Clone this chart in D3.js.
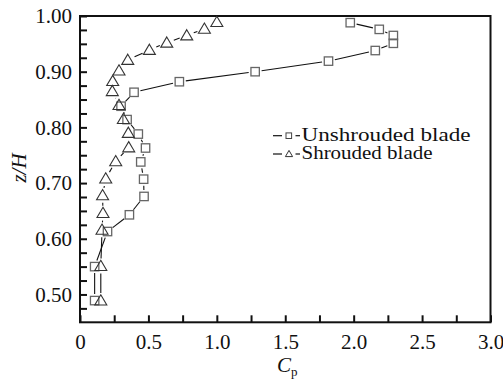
<!DOCTYPE html>
<html><head><meta charset="utf-8">
<script src="https://cdn.jsdelivr.net/npm/d3@7"></script>
<style>
body{margin:0;background:#fff;}
</style></head>
<body><svg id="c" width="503" height="384"></svg>
<script>
// Data
const seriesNames = ["Unshrouded blade", "Shrouded blade"];
const unshroudedCp = [1.975,2.187,2.29,2.29,2.158,1.816,1.28,0.726,0.395,0.30,0.344,0.426,0.479,0.444,0.465,0.468,0.361,0.201,0.107,0.107];
const unshroudedZ  = [0.988,0.976,0.965,0.951,0.938,0.919,0.900,0.882,0.863,0.838,0.814,0.788,0.763,0.738,0.707,0.676,0.643,0.613,0.550,0.489];
const shroudedCp = [1.0,0.909,0.78,0.634,0.507,0.349,0.285,0.239,0.236,0.285,0.317,0.353,0.356,0.261,0.188,0.165,0.168,0.161,0.152,0.152];
const shroudedZ  = [0.989,0.977,0.965,0.952,0.939,0.921,0.902,0.883,0.865,0.840,0.815,0.790,0.764,0.739,0.708,0.678,0.646,0.616,0.551,0.489];
const xTicks = [0,0.5,1.0,1.5,2.0,2.5,3.0];
const xTickLabels = ["0","0.5","1.0","1.5","2.0","2.5","3.0"];
const yTicks = [0.50,0.60,0.70,0.80,0.90,1.00];
const yTickLabels = ["0.50","0.60","0.70","0.80","0.90","1.00"];

const FONT = "'Liberation Serif', 'Times New Roman', Times, serif";
const svg = d3.select("#c");
const L=80, R=490.5, T=16, B=322.3;
const x = d3.scaleLinear().domain([0,3]).range([L,R]);
const y = d3.scaleLinear().domain([0.45,1.0]).range([B,T]);

// minor + major ticks (inward)
const xMinor = d3.range(0,3.0001,0.25);
const yMinor = d3.range(0.475,1.0001,0.025);
svg.append("g").attr("transform",`translate(0,${B})`)
  .call(d3.axisBottom(x).tickValues(xMinor).tickSize(-7).tickFormat(""))
  .call(g=>{g.select(".domain").remove(); g.selectAll("line").attr("stroke","#111").attr("stroke-width",2);});
svg.append("g").attr("transform",`translate(${L},0)`)
  .call(d3.axisLeft(y).tickValues(yMinor).tickSize(-7).tickFormat(""))
  .call(g=>{g.select(".domain").remove(); g.selectAll("line").attr("stroke","#111").attr("stroke-width",2);});

// tick labels
svg.append("g").attr("transform",`translate(0,${B})`)
  .call(d3.axisBottom(x).tickValues(xTicks).tickSize(0).tickPadding(12).tickFormat((d,i)=>xTickLabels[i]))
  .call(g=>{g.select(".domain").remove(); g.attr("font-family",null);
    g.selectAll("text").style("font-family",FONT).style("font-size","21px").attr("fill","#111");});
svg.append("g").attr("transform",`translate(${L},0)`)
  .call(d3.axisLeft(y).tickValues(yTicks).tickSize(0).tickPadding(8).tickFormat((d,i)=>yTickLabels[i]))
  .call(g=>{g.select(".domain").remove(); g.attr("font-family",null);
    g.selectAll("text").style("font-family",FONT).style("font-size","21px").attr("fill","#111");});

// frame
svg.append("rect").attr("x",L).attr("y",T).attr("width",R-L).attr("height",B-T)
  .attr("fill","none").attr("stroke","#111").attr("stroke-width",2);

function drawSeries(cps, zs, gap){
  const pts = cps.map((c,i)=>[x(c), y(zs[i])]);
  const g = svg.append("g");
  for(let i=0;i<pts.length-1;i++){
    const [x1,y1]=pts[i],[x2,y2]=pts[i+1];
    const dx=x2-x1, dy=y2-y1, len=Math.hypot(dx,dy);
    if(len<=2*gap) continue;
    const ux=dx/len, uy=dy/len;
    g.append("line").attr("x1",x1+ux*gap).attr("y1",y1+uy*gap)
      .attr("x2",x2-ux*gap).attr("y2",y2-uy*gap)
      .attr("stroke","#111").attr("stroke-width",1.1);
  }
  return pts;
}
const pu = drawSeries(unshroudedCp, unshroudedZ, 6.5);
const ps = drawSeries(shroudedCp, shroudedZ, 7.5);

svg.append("g").selectAll("rect").data(pu).join("rect")
  .attr("x",d=>d[0]-4.2).attr("y",d=>d[1]-4.2).attr("width",8.4).attr("height",8.4)
  .attr("fill","none").attr("stroke","#666").attr("stroke-width",1.3);
const tri = "M0,-5.8L6,4.4L-6,4.4Z";
svg.append("g").selectAll("path").data(ps).join("path")
  .attr("d",tri).attr("transform",d=>`translate(${d[0]},${d[1]})`)
  .attr("fill","none").attr("stroke","#333").attr("stroke-width",1.1);

// legend
const lg = svg.append("g");
const legY = [135.7, 154];
const legW = [169, 131];
[0,1].forEach(i=>{
  const yy = legY[i];
  lg.append("line").attr("x1",273).attr("x2",282).attr("y1",yy).attr("y2",yy).attr("stroke","#111").attr("stroke-width",1.2);
  lg.append("line").attr("x1",295.5).attr("x2",300).attr("y1",yy).attr("y2",yy).attr("stroke","#111").attr("stroke-width",1.2);
  if(i===0){
    lg.append("rect").attr("x",286).attr("y",yy-2.8).attr("width",5.6).attr("height",5.6).attr("fill","none").attr("stroke","#444").attr("stroke-width",1);
  } else {
    lg.append("path").attr("d","M0,-3.6L3.6,2.6L-3.6,2.6Z").attr("transform",`translate(289,${yy})`).attr("fill","none").attr("stroke","#333").attr("stroke-width",1);
  }
  lg.append("text").attr("x",301.5).attr("y",yy+5.2).style("font-family",FONT).style("font-size","19px")
    .attr("textLength",legW[i]).attr("lengthAdjust","spacingAndGlyphs").attr("fill","#111").text(seriesNames[i]);
});

// axis titles
svg.append("text").attr("transform","translate(26,168) rotate(-90)").attr("text-anchor","middle")
  .style("font-family",FONT).style("font-size","21px").style("font-style","italic").attr("fill","#111").text("z/H");
const xt = svg.append("text").attr("x",277).attr("y",372).style("font-family",FONT).style("font-size","21px").attr("fill","#111");
xt.append("tspan").style("font-style","italic").text("C");
xt.append("tspan").style("font-size","13px").attr("dy",4).text("p");
</script></body></html>
